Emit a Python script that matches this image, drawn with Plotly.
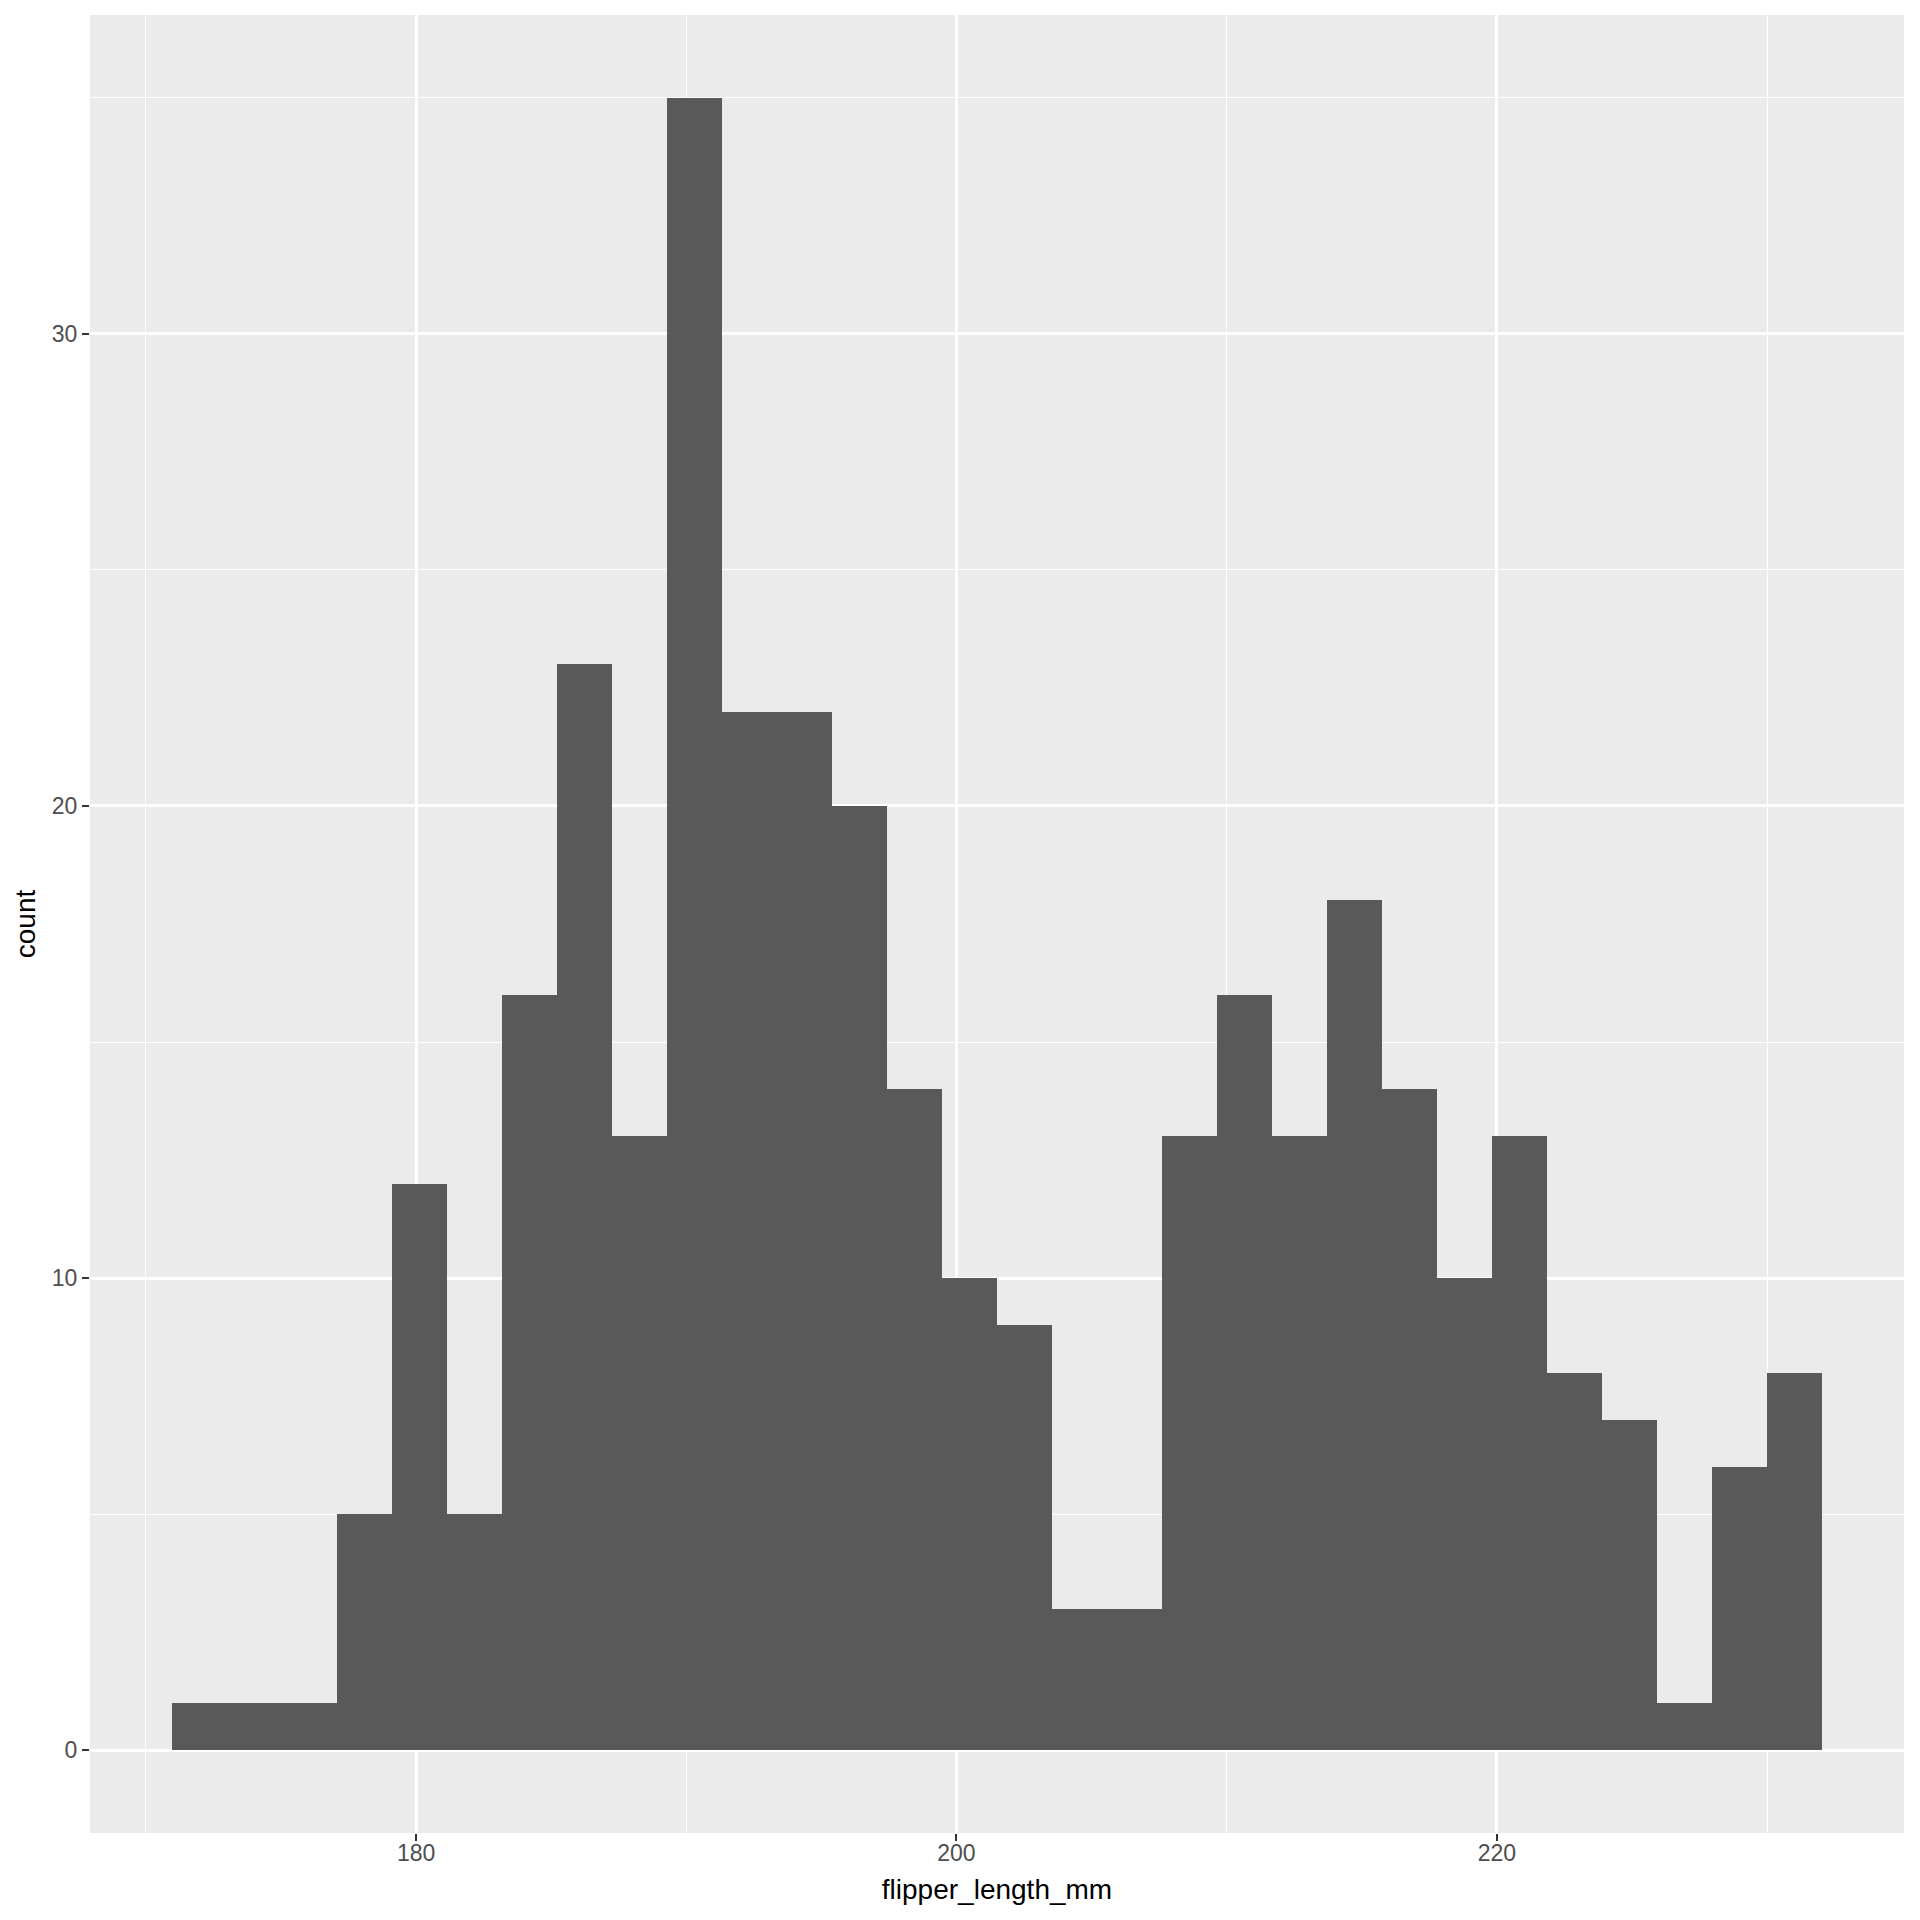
import numpy as np
import plotly.graph_objects as go

# flipper length histogram (30 bins, like ggplot's default)
flipper_min = 172
flipper_max = 231
counts = [1, 1, 1, 5, 12, 5, 16, 23, 13, 35,
          22, 22, 20, 14, 10, 9, 3, 3, 13, 16,
          13, 18, 14, 10, 13, 8, 7, 1, 6, 8]
x_ticks = [180, 200, 220]
x_minor = [170, 190, 210, 230]
y_ticks = [0, 10, 20, 30]
y_minor = [5, 15, 25, 35]

n_bins = len(counts)
binwidth = (flipper_max - flipper_min) / (n_bins - 1)
centers = flipper_min + binwidth * np.arange(n_bins)

# ggplot-style 5% expansion
x_lo, x_hi = centers[0] - binwidth / 2, centers[-1] + binwidth / 2
x_pad = (x_hi - x_lo) * 0.05
y_pad = max(counts) * 0.05

fig = go.Figure()
fig.add_trace(go.Bar(
    x=centers, y=counts, width=binwidth,
    marker=dict(color='#595959', line=dict(width=0)),
    showlegend=False,
))

axis_common = dict(
    showgrid=True, gridcolor='white', gridwidth=2.5,
    zeroline=False, showline=False,
    ticks='outside', ticklen=7, tickwidth=2, tickcolor='#333333',
    tickfont=dict(family='Liberation Sans, Arial', size=23, color='#4D4D4D'),
)

fig.update_xaxes(
    **axis_common,
    range=[x_lo - x_pad, x_hi + x_pad],
    tickvals=x_ticks,
    ticklabelstandoff=-8,
    minor=dict(tickvals=x_minor, showgrid=True, gridcolor='white', gridwidth=1.2, ticks=''),
    title=dict(text='flipper_length_mm', standoff=14,
               font=dict(family='Liberation Sans, Arial', size=28, color='black')),
)
fig.update_yaxes(
    **axis_common,
    range=[-y_pad, max(counts) + y_pad],
    tickvals=y_ticks,
    minor=dict(tickvals=y_minor, showgrid=True, gridcolor='white', gridwidth=1.2, ticks=''),
    title=dict(text='count', standoff=8,
               font=dict(family='Liberation Sans, Arial', size=28, color='black')),
)

# page body adds ~8px offset, so margins are shifted to put the panel where ggplot has it
fig.update_layout(
    width=1920, height=1920,
    margin=dict(l=82, r=24, t=7, b=95),
    plot_bgcolor='#EBEBEB', paper_bgcolor='white',
    bargap=0,
)

fig.write_html("out.html")
